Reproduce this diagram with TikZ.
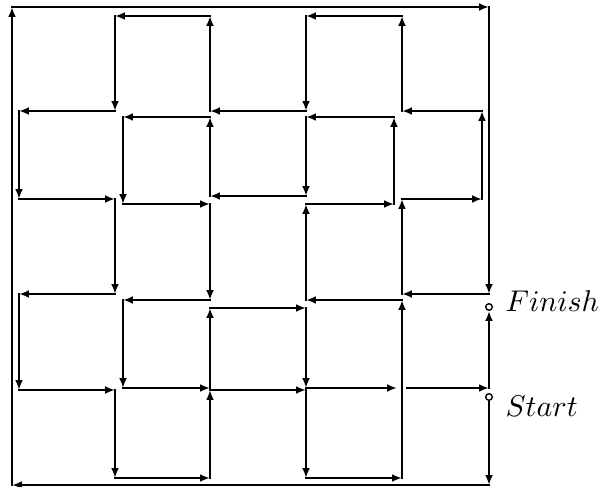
\documentclass[tikz,border=0pt]{standalone}
\usetikzlibrary{arrows.meta}
\begin{document}
\begin{tikzpicture}[x=0.33333pt,y=-0.33333pt,
  seg/.style={line width=0.9pt,line cap=rect,-{Latex[length=3.3pt,width=2.6pt]}},
  ring/.style={circle,draw,line width=0.45pt,minimum size=2.2pt,inner sep=0pt},
  lab/.style={anchor=base west,inner sep=0pt}]
\useasboundingbox (0,0) rectangle (601,487);
\foreach \n/\x/\y in {1/489/485,2/12/485,3/12/7,4/489/7,5/489/294,6/402/294,7/402/199,
  8/482/199,9/482/111,10/402/111,11/402/16,12/306/16,13/306/111,14/210/111,15/210/16,
  16/115/16,17/115/111,18/19/111,19/19/199,20/115/199,21/115/294,22/19/294,23/19/390,
  24/115/390,25/115/478,26/210/478,27/210/390,28/306/390,29/306/478,30/402/478,
  31/402/300,32/306/300,33/306/204,34/394/204,35/394/117,36/306/117,37/306/196,
  38/210/196,39/210/117,40/123/117,41/123/204,42/210/204,43/210/300,44/123/300,
  45/123/388,46/210/388,47/210/308,48/306/308,49/306/388,50/489/388}
  \coordinate (p\n) at (\x,\y);
\coordinate (g1) at (397,388);
\coordinate (g2) at (407,388);
\node[ring] (S) at (489,397) {};
\node[ring] (F) at (489,307) {};
\node[lab] (fl) at (505,312) {$Finish$};
\node[lab] (sl) at (505,417) {$Start$};
\draw[seg] (S) -- (p1);
\foreach \a/\b in {1/2,2/3,3/4,4/5,5/6,6/7,7/8,8/9,9/10,10/11,11/12,12/13,13/14,14/15,
  15/16,16/17,17/18,18/19,19/20,20/21,21/22,22/23,23/24,24/25,25/26,26/27,27/28,28/29,
  29/30,30/31,31/32,32/33,33/34,34/35,35/36,36/37,37/38,38/39,39/40,40/41,41/42,42/43,
  43/44,44/45,45/46,46/47,47/48,48/49}
  \draw[seg] (p\a) -- (p\b);
\draw[seg] (p49) -- (g1);
\draw[seg] (g2) -- (p50);
\draw[seg] (p50) -- (F);
\end{tikzpicture}
\end{document}
